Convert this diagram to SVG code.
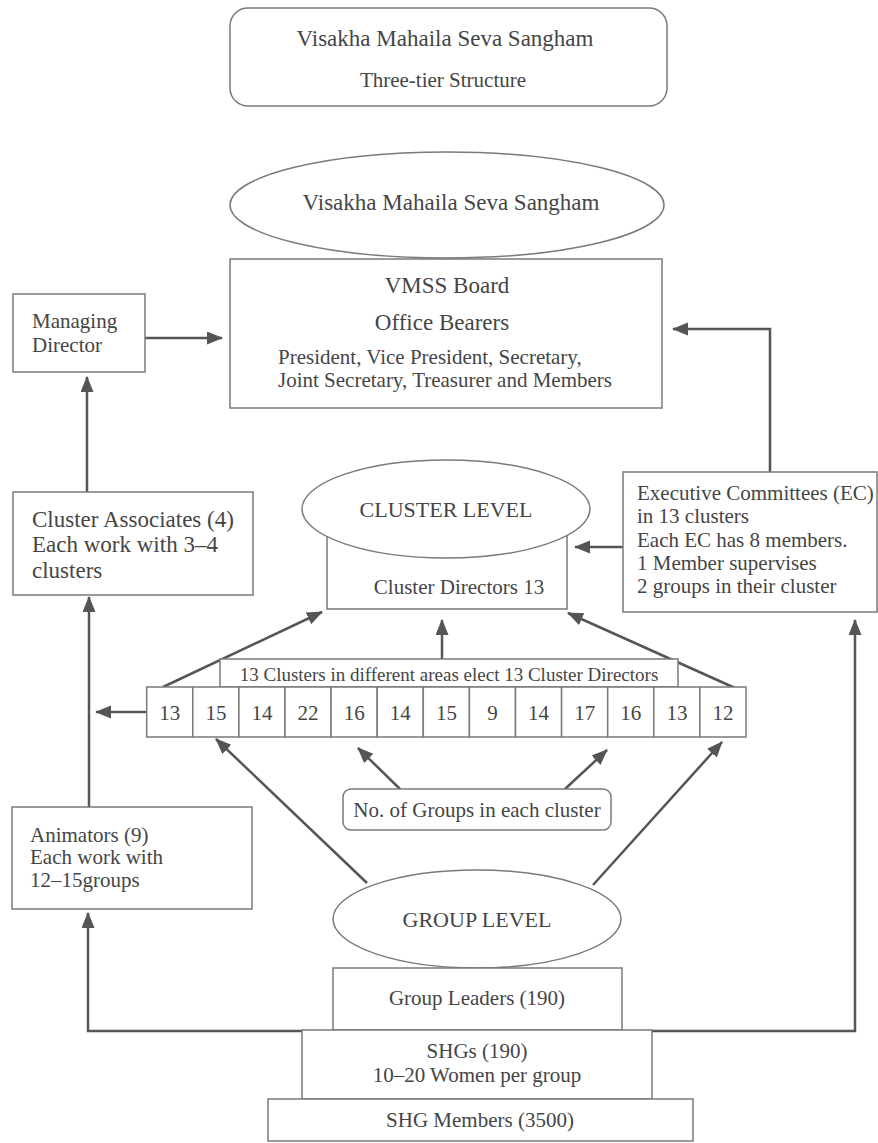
<svg xmlns="http://www.w3.org/2000/svg" width="878" height="1143" viewBox="0 0 878 1143">
<style>
.box{fill:#fff;stroke:#7a7a7a;stroke-width:1.5}
text{font-family:'Liberation Serif','Times New Roman','DejaVu Serif',serif;fill:#454545;font-size:21px}
.c{text-anchor:middle}
.big{font-size:23px}
.con{fill:none;stroke:#555;stroke-width:2.5}
</style>
<defs>
<marker id="ah" markerUnits="userSpaceOnUse" markerWidth="16" markerHeight="14" refX="15" refY="6.5" orient="auto">
<path d="M0,0 L16,6.5 L0,13 z" fill="#555"/>
</marker>
</defs>
<rect width="878" height="1143" fill="#fff"/>

<g id="connectors">
<path class="con" d="M145,338 H222" marker-end="url(#ah)"/>
<path class="con" d="M87,492 V377" marker-end="url(#ah)"/>
<path class="con" d="M89,807 V597" marker-end="url(#ah)"/>
<path class="con" d="M302,1031 H88 V913" marker-end="url(#ah)"/>
<path class="con" d="M652,1031 H855 V620" marker-end="url(#ah)"/>
<path class="con" d="M770,472 V329 H673" marker-end="url(#ah)"/>
<path class="con" d="M623,547 H575" marker-end="url(#ah)"/>
<path class="con" d="M163,687 L322,612" marker-end="url(#ah)"/>
<path class="con" d="M442,659 V620" marker-end="url(#ah)"/>
<path class="con" d="M735,688 L568,613" marker-end="url(#ah)"/>
<path class="con" d="M146,712 H96" marker-end="url(#ah)"/>
<path class="con" d="M400,789 L358,748" marker-end="url(#ah)"/>
<path class="con" d="M565,789 L607,750" marker-end="url(#ah)"/>
<path class="con" d="M367,883 L216,739" marker-end="url(#ah)"/>
<path class="con" d="M593,885 L722,742" marker-end="url(#ah)"/>
</g>

<g id="title">
<rect class="box" x="230" y="8" width="437" height="98" rx="18"/>
<text class="big c" x="445" y="46">Visakha Mahaila Seva Sangham</text>
<text class="c" x="443" y="87">Three-tier Structure</text>
</g>

<g id="vmss">
<ellipse class="box" cx="447" cy="205" rx="217" ry="53"/>
<text class="big c" x="451" y="210">Visakha Mahaila Seva Sangham</text>
</g>

<g id="board">
<rect class="box" x="230" y="259" width="432" height="149"/>
<text class="big c" x="447" y="293">VMSS Board</text>
<text class="big c" x="442" y="330">Office Bearers</text>
<text x="278" y="364">President, Vice President, Secretary,</text>
<text x="278" y="387">Joint Secretary, Treasurer and Members</text>
</g>

<g id="managing-director">
<rect class="box" x="13" y="294" width="132" height="78"/>
<text x="32" y="328">Managing</text>
<text x="32" y="352">Director</text>
</g>

<g id="cluster-associates">
<rect class="box" x="13" y="492" width="240" height="103"/>
<text class="big" x="32" y="527">Cluster Associates (4)</text>
<text class="big" x="32" y="552">Each work with 3–4</text>
<text class="big" x="32" y="578">clusters</text>
</g>

<g id="cluster-directors">
<rect class="box" x="327" y="509" width="240" height="100"/>
<text class="c" x="459" y="594">Cluster Directors 13</text>
</g>

<g id="cluster-level">
<ellipse class="box" cx="446" cy="509" rx="144" ry="49"/>
<text class="c" x="446" y="517" style="font-size:22px">CLUSTER LEVEL</text>
</g>

<g id="executive-committees">
<rect class="box" x="623" y="472" width="254" height="140"/>
<text x="637" y="500">Executive Committees (EC)</text>
<text x="637" y="523">in 13 clusters</text>
<text x="637" y="547">Each EC has 8 members.</text>
<text x="637" y="570">1 Member supervises</text>
<text x="637" y="593">2 groups in their cluster</text>
</g>

<g id="elect">
<rect class="box" x="220" y="659" width="458" height="28"/>
<text class="c" x="449" y="681" style="font-size:19px">13 Clusters in different areas elect 13 Cluster Directors</text>
</g>

<g id="cluster-row">
<rect class="box" x="146.7" y="687" width="46.1" height="50"/>
<rect class="box" x="192.8" y="687" width="46.1" height="50"/>
<rect class="box" x="238.9" y="687" width="46.1" height="50"/>
<rect class="box" x="285" y="687" width="46.1" height="50"/>
<rect class="box" x="331.1" y="687" width="46.1" height="50"/>
<rect class="box" x="377.2" y="687" width="46.1" height="50"/>
<rect class="box" x="423.3" y="687" width="46.1" height="50"/>
<rect class="box" x="469.4" y="687" width="46.1" height="50"/>
<rect class="box" x="515.5" y="687" width="46.1" height="50"/>
<rect class="box" x="561.6" y="687" width="46.1" height="50"/>
<rect class="box" x="607.7" y="687" width="46.1" height="50"/>
<rect class="box" x="653.8" y="687" width="46.1" height="50"/>
<rect class="box" x="699.9" y="687" width="46.1" height="50"/>
<text class="c" x="169.8" y="720">13</text>
<text class="c" x="215.9" y="720">15</text>
<text class="c" x="262" y="720">14</text>
<text class="c" x="308.1" y="720">22</text>
<text class="c" x="354.2" y="720">16</text>
<text class="c" x="400.3" y="720">14</text>
<text class="c" x="446.4" y="720">15</text>
<text class="c" x="492.5" y="720">9</text>
<text class="c" x="538.6" y="720">14</text>
<text class="c" x="584.7" y="720">17</text>
<text class="c" x="630.8" y="720">16</text>
<text class="c" x="676.9" y="720">13</text>
<text class="c" x="723" y="720">12</text>
</g>

<g id="no-of-groups">
<rect class="box" x="343" y="789" width="268" height="41" rx="8"/>
<text class="c" x="477" y="817">No. of Groups in each cluster</text>
</g>

<g id="animators">
<rect class="box" x="12" y="807" width="240" height="102"/>
<text x="30" y="842">Animators (9)</text>
<text x="30" y="864">Each work with</text>
<text x="30" y="887">12–15groups</text>
</g>

<g id="group-level">
<ellipse class="box" cx="477" cy="919" rx="144" ry="49"/>
<text class="c" x="477" y="927" style="font-size:22px">GROUP LEVEL</text>
</g>

<g id="group-leaders">
<rect class="box" x="333" y="968" width="289" height="62"/>
<text class="c" x="477" y="1005">Group Leaders (190)</text>
</g>

<g id="shgs">
<rect class="box" x="302" y="1030" width="350" height="69"/>
<text class="c" x="477" y="1058">SHGs (190)</text>
<text class="c" x="477" y="1082">10–20 Women per group</text>
</g>

<g id="shg-members">
<rect class="box" x="268" y="1099" width="425" height="42"/>
<text class="c" x="480" y="1127">SHG Members (3500)</text>
</g>
</svg>
